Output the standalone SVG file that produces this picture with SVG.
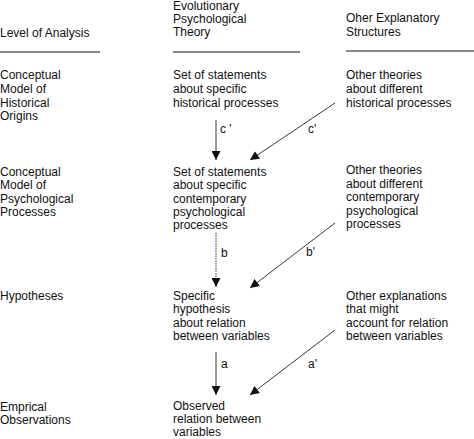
<svg xmlns="http://www.w3.org/2000/svg" width="474" height="439" viewBox="0 0 474 439">
<style>
text{font-family:"Liberation Sans",Arial,sans-serif;font-size:12px;fill:#111}
.rule{stroke:#111;stroke-width:1.2}
.conn{stroke:#222;stroke-width:0.9;fill:none}
</style>
<defs>
<marker id="ah" viewBox="0 0 10 10" refX="10" refY="5" markerWidth="10" markerHeight="9" markerUnits="userSpaceOnUse" orient="auto">
<path d="M0,0 L10,5 L0,10 Z" fill="#111"/>
</marker>
</defs>
<rect width="474" height="439" fill="#fff"/>
<g id="headers">
<text x="0" y="37">Level of Analysis</text>
<text x="173" y="10">Evolutionary</text>
<text x="173" y="23">Psychological</text>
<text x="173" y="36">Theory</text>
<text x="346" y="22">Oher Explanatory</text>
<text x="346" y="36">Structures</text>
<line class="rule" x1="0" y1="52" x2="100" y2="52"/>
<line class="rule" x1="173" y1="52" x2="300" y2="52"/>
<line class="rule" x1="346" y1="51" x2="474" y2="51"/>
</g>
<g id="level1">
<text x="0" y="79">Conceptual</text>
<text x="0" y="93">Model of</text>
<text x="0" y="107">Historical</text>
<text x="0" y="120">Origins</text>
</g>
<g id="evo1">
<text x="173" y="79">Set of statements</text>
<text x="173" y="93">about specific</text>
<text x="173" y="107">historical processes</text>
</g>
<g id="other1">
<text x="346" y="79">Other theories</text>
<text x="346" y="93">about different</text>
<text x="346" y="107">historical processes</text>
</g>
<g id="level2">
<text x="0" y="176">Conceptual</text>
<text x="0" y="189">Model of</text>
<text x="0" y="203">Psychological</text>
<text x="0" y="216">Processes</text>
</g>
<g id="evo2">
<text x="173" y="176">Set of statements</text>
<text x="173" y="189">about specific</text>
<text x="173" y="203">contemporary</text>
<text x="173" y="216">psychological</text>
<text x="173" y="229">processes</text>
</g>
<g id="other2">
<text x="346" y="174">Other theories</text>
<text x="346" y="188">about different</text>
<text x="346" y="201">contemporary</text>
<text x="346" y="215">psychological</text>
<text x="346" y="228">processes</text>
</g>
<g id="level3">
<text x="0" y="300">Hypotheses</text>
</g>
<g id="evo3">
<text x="173" y="300">Specific</text>
<text x="173" y="313">hypothesis</text>
<text x="173" y="327">about relation</text>
<text x="173" y="340">between variables</text>
</g>
<g id="other3">
<text x="346" y="300">Other explanations</text>
<text x="346" y="313">that might</text>
<text x="346" y="327">account for relation</text>
<text x="346" y="340">between variables</text>
</g>
<g id="level4">
<text x="0" y="411">Emprical</text>
<text x="0" y="424">Observations</text>
</g>
<g id="evo4">
<text x="173" y="410">Observed</text>
<text x="173" y="423">relation between</text>
<text x="173" y="436">variables</text>
</g>
<g id="connectors">
<line class="conn" x1="216" y1="120" x2="216" y2="160" marker-end="url(#ah)"/>
<line class="conn" x1="335" y1="103" x2="250" y2="160" marker-end="url(#ah)"/>
<line class="conn" x1="216" y1="233" x2="216" y2="287" marker-end="url(#ah)" stroke-dasharray="1.5,1"/>
<line class="conn" x1="335" y1="223" x2="250" y2="288" marker-end="url(#ah)"/>
<line class="conn" x1="216" y1="352" x2="216" y2="395" marker-end="url(#ah)"/>
<line class="conn" x1="335" y1="330" x2="250" y2="395" marker-end="url(#ah)"/>
<text x="220" y="133">c '</text>
<text x="308" y="133">c'</text>
<text x="221" y="257">b</text>
<text x="306" y="256">b'</text>
<text x="221" y="368">a</text>
<text x="308" y="368">a'</text>
</g>
</svg>
